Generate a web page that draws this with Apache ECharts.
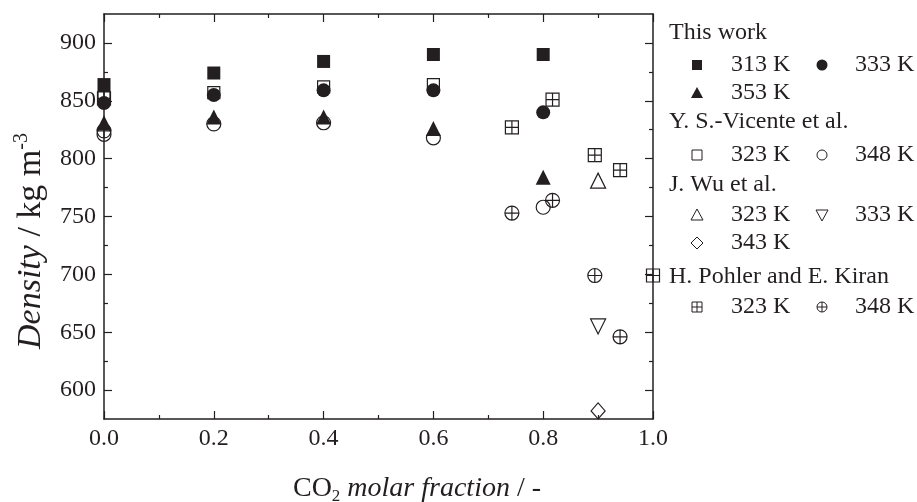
<!DOCTYPE html>
<html><head><meta charset="utf-8">
<script src="https://cdn.jsdelivr.net/npm/echarts@6/dist/echarts.min.js"></script>
<style>html,body{margin:0;padding:0;background:#fff}#c{width:917px;height:502px}</style>
</head><body><div id="c"></div>
<script>
// ---- data ----
const twX = [0, 0.2, 0.4, 0.6, 0.8];
const tw313 = [864, 874, 884, 890, 890];
const tw333 = [848, 855, 859, 859, 840];
const tw353 = [831, 836, 836, 826, 784];
const vic323X = [0, 0.2, 0.4, 0.6];
const vic323 = [853, 857, 862, 864];
const vic348X = [0, 0.2, 0.4, 0.6, 0.8];
const vic348 = [821, 830, 831, 818, 758];
const wuX = [0.9];
const wu323 = [781];
const wu333 = [655];
const wu343 = [582];
const poh323X = [0, 0.743, 0.817, 0.894, 0.94, 1.0];
const poh323 = [852, 827, 851, 803, 790, 699];
const poh348X = [0, 0.743, 0.817, 0.894, 0.94];
const poh348 = [824, 753, 764, 699, 646];
const yMajor = [600, 650, 700, 750, 800, 850, 900];
const yMinor = [625, 675, 725, 775, 825, 875];

const INK = '#231f20';
const FONT = 'Liberation Serif';
const zip = (xs, ys) => xs.map((x, i) => [x, ys[i]]);

const crossSq = 'path://M0,0L20,0L20,20L0,20Z M10,0L10,20 M0,10L20,10';
const crossCirc = 'path://M10,0A10,10,0,1,1,10,20A10,10,0,1,1,10,0Z M10,0L10,20 M0,10L20,10';
const openStyle = {color: 'rgba(0,0,0,0)', borderColor: INK, borderWidth: 1.2, opacity: 1};
const fillStyle = {color: INK, opacity: 1};

function sc(name, data, symbol, size, style, rot) {
  return {type: 'scatter', name, data, symbol, symbolSize: size, symbolRotate: rot || 0,
    itemStyle: style, emphasis: {disabled: true}, xAxisIndex: 0, yAxisIndex: 0, silent: true};
}

const series = [
  sc('P323', zip(poh323X, poh323), crossSq, 13, openStyle),
  sc('P348', zip(poh348X, poh348), crossCirc, 14, openStyle),
  sc('W323', zip(wuX, wu323), 'triangle', 15, openStyle),
  sc('W333', zip(wuX, wu333), 'triangle', 15, openStyle, 180),
  sc('W343', zip(wuX, wu343), 'diamond', [14, 16], openStyle),
  sc('V323', zip(vic323X, vic323), 'rect', 12, openStyle),
  sc('V348', zip(vic348X, vic348), 'circle', 14, openStyle),
  sc('T313', zip(twX, tw313), 'rect', 13, fillStyle),
  sc('T333', zip(twX, tw333), 'circle', 14, fillStyle),
  sc('T353', zip(twX, tw353), 'triangle', 15, fillStyle)
];

// ---- legend drawn as graphics ----
function legSym(kind, cx, cy) {
  const s = 5;
  const open = {fill: 'none', stroke: INK, lineWidth: 1};
  const fill = {fill: INK};
  switch (kind) {
    case 'fsq': return [{type: 'rect', shape: {x: cx - s, y: cy - s, width: 2 * s, height: 2 * s}, style: fill}];
    case 'fci': return [{type: 'circle', shape: {cx, cy, r: s + 0.5}, style: fill}];
    case 'ftr': return [{type: 'polygon', shape: {points: [[cx, cy - s - 1], [cx + s + 1, cy + s], [cx - s - 1, cy + s]]}, style: fill}];
    case 'osq': return [{type: 'rect', shape: {x: cx - s, y: cy - s, width: 2 * s, height: 2 * s}, style: open}];
    case 'oci': return [{type: 'circle', shape: {cx, cy, r: s}, style: open}];
    case 'otr': return [{type: 'polygon', shape: {points: [[cx, cy - s - 1], [cx + s + 1, cy + s], [cx - s - 1, cy + s]]}, style: open}];
    case 'odt': return [{type: 'polygon', shape: {points: [[cx, cy + s + 1], [cx + s + 1, cy - s], [cx - s - 1, cy - s]]}, style: open}];
    case 'odi': return [{type: 'polygon', shape: {points: [[cx, cy - s - 1], [cx + s + 1, cy], [cx, cy + s + 1], [cx - s - 1, cy]]}, style: open}];
    case 'csq': return [{type: 'rect', shape: {x: cx - s, y: cy - s, width: 2 * s, height: 2 * s}, style: open},
      {type: 'line', shape: {x1: cx, y1: cy - s, x2: cx, y2: cy + s}, style: {stroke: INK, lineWidth: 1}},
      {type: 'line', shape: {x1: cx - s, y1: cy, x2: cx + s, y2: cy}, style: {stroke: INK, lineWidth: 1}}];
    case 'cci': return [{type: 'circle', shape: {cx, cy, r: s}, style: open},
      {type: 'line', shape: {x1: cx, y1: cy - s, x2: cx, y2: cy + s}, style: {stroke: INK, lineWidth: 1}},
      {type: 'line', shape: {x1: cx - s, y1: cy, x2: cx + s, y2: cy}, style: {stroke: INK, lineWidth: 1}}];
  }
}
function txt(t, x, y) {
  return {type: 'text', x, y, style: {text: t, fontFamily: FONT, fontSize: 24, fill: INK, align: 'left', verticalAlign: 'middle'}};
}
const headX = 669, s1 = 697, t1 = 731, s2 = 822, t2 = 855;
const legendGraphics = [
  txt('This work', headX, 33),
  ...legSym('fsq', s1, 65), txt('313 K', t1, 65), ...legSym('fci', s2, 65), txt('333 K', t2, 65),
  ...legSym('ftr', s1, 93), txt('353 K', t1, 93),
  txt('Y. S.-Vicente et al.', headX, 122),
  ...legSym('osq', s1, 155), txt('323 K', t1, 155), ...legSym('oci', s2, 155), txt('348 K', t2, 155),
  txt('J. Wu et al.', headX, 185),
  ...legSym('otr', s1, 215), txt('323 K', t1, 215), ...legSym('odt', s2, 215), txt('333 K', t2, 215),
  ...legSym('odi', s1, 243), txt('343 K', t1, 243),
  txt('H. Pohler and E. Kiran', headX, 277),
  ...legSym('csq', s1, 307), txt('323 K', t1, 307), ...legSym('cci', s2, 307), txt('348 K', t2, 307)
];

const titles = [
  {type: 'text', x: 417, y: 489, style: {
    text: '{n|CO}{s|2}{i| molar fraction}{n| / -}', align: 'center', verticalAlign: 'middle', fill: INK,
    fontFamily: FONT, fontSize: 28,
    rich: {
      n: {fontFamily: FONT, fontSize: 28, fill: INK, lineHeight: 32},
      i: {fontFamily: FONT, fontSize: 28, fontStyle: 'italic', fill: INK, lineHeight: 32},
      s: {fontFamily: FONT, fontSize: 17, fill: INK, lineHeight: 17, verticalAlign: 'bottom', padding: [10, 0, 0, 0]}
    }}},
  {type: 'text', x: 31, y: 241, rotation: Math.PI / 2, style: {
    text: '{i|Density}{n| / kg m}{s|-3}', align: 'center', verticalAlign: 'middle', fill: INK,
    fontFamily: FONT, fontSize: 34,
    rich: {
      n: {fontFamily: FONT, fontSize: 34, fill: INK, lineHeight: 38},
      i: {fontFamily: FONT, fontSize: 34, fontStyle: 'italic', fill: INK, lineHeight: 38},
      s: {fontFamily: FONT, fontSize: 20, fill: INK, lineHeight: 20, verticalAlign: 'top'}
    }}}
];

const axLine = {show: true, lineStyle: {color: INK, width: 1.5}};
function xAx(pos, labels) {
  return {type: 'value', min: 0, max: 1, interval: 0.2, position: pos,
    axisLine: axLine, splitLine: {show: false},
    axisTick: {show: true, inside: true, length: 8, lineStyle: {color: INK, width: 1.2}},
    minorTick: {show: true, splitNumber: 2, length: 4, lineStyle: {color: INK, width: 1.2}},
    axisLabel: {show: labels, fontFamily: FONT, fontSize: 24, color: INK, margin: 8, formatter: v => v.toFixed(1)}};
}
function yAx(pos, vals, len, labels, line) {
  return {type: 'value', min: 575, max: 925, position: pos,
    axisLine: line ? axLine : {show: false}, splitLine: {show: false},
    axisTick: {show: true, inside: true, length: len, customValues: vals, lineStyle: {color: INK, width: 1.2}},
    axisLabel: {show: labels, customValues: vals, fontFamily: FONT, fontSize: 24, color: INK, margin: 8}};
}

const chart = echarts.init(document.getElementById('c'), null, {renderer: 'canvas'});
chart.setOption({
  animation: false,
  backgroundColor: '#fff',
  grid: {left: 104, right: 264, top: 14, bottom: 83, containLabel: false},
  xAxis: [xAx('bottom', true), xAx('top', false)],
  yAxis: [yAx('left', yMajor, 8, true, true), yAx('left', yMinor, 4, false, false),
          yAx('right', yMajor, 8, false, true), yAx('right', yMinor, 4, false, false)],
  series,
  graphic: [...legendGraphics, ...titles]
});
</script></body></html>
